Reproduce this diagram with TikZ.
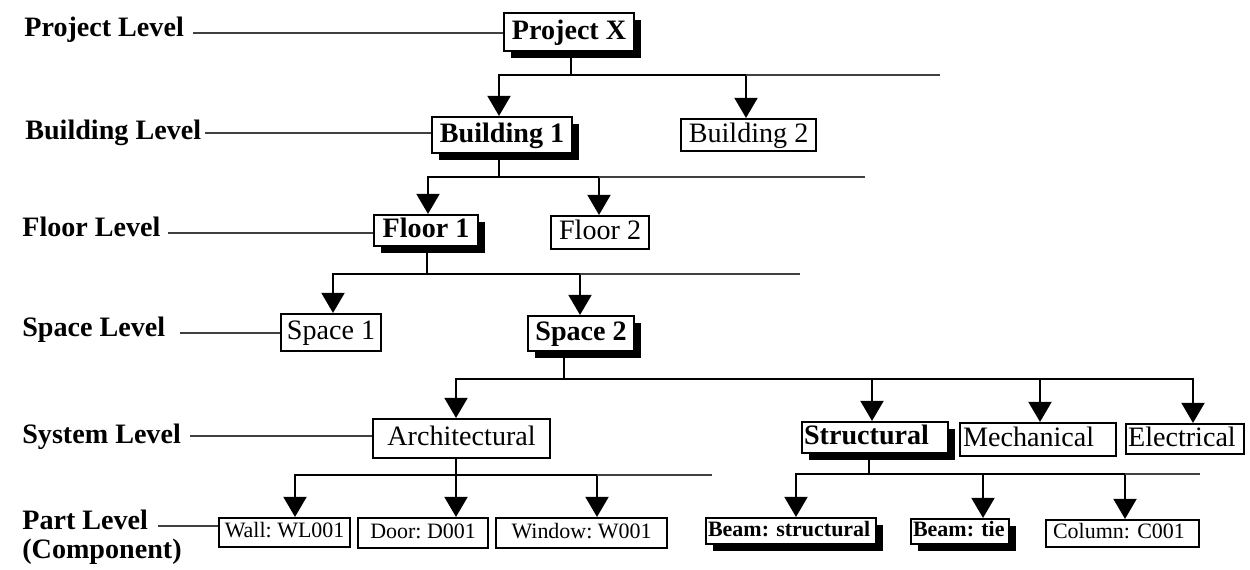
\documentclass[tikz,border=0pt]{standalone}
\usepackage{fontspec}
\setmainfont{Liberation Serif}
\usetikzlibrary{arrows.meta,shadows}

\begin{document}
\frenchspacing
\begin{tikzpicture}[x=0.02cm,y=-0.02cm,
  big/.style={font=\fontsize{16}{18}\selectfont, text height=11pt, text depth=3pt},
  bigb/.style={font=\fontsize{16}{18}\selectfont\bfseries, text height=11pt, text depth=3pt},
  small/.style={font=\fontsize{12.5}{14}\selectfont, text height=8.5pt, text depth=2.5pt},
  smallb/.style={font=\fontsize{12.5}{14}\selectfont\bfseries, text height=8.5pt, text depth=2.5pt},
  box/.style={draw, line width=1.2pt, fill=white, inner sep=0pt, anchor=north west},
  sz/.style 2 args={minimum width=#1*0.02cm, minimum height=#2*0.02cm},
  shade/.style={drop shadow={shadow xshift=0.13cm, shadow yshift=-0.14cm, fill=black, opacity=1}},
  lft/.style 2 args={align=left, inner xsep=#1, text width=#2},
  conn/.style={line width=1.6pt},
  arr/.style={conn, -{Triangle[width=13pt,length=11.5pt]}},
  darr/.style={conn, {Triangle[width=13pt,length=11.5pt]}-{Triangle[width=13pt,length=11.5pt]}},
  guide/.style={line width=0.6pt, black!75},
  lvl/.style={anchor=base west, inner sep=0pt, font=\fontsize{16}{18}\selectfont\bfseries},
]
\fill[white] (0,0) rectangle (1250,570);
\useasboundingbox (0,0) rectangle (1250,570);

% level captions
\node[lvl] (lP) at (24,37)  {Project Level};
\node[lvl] (lB) at (25,140) {Building Level};
\node[lvl] (lF) at (22,237) {Floor Level};
\node[lvl] (lS) at (22,337) {Space Level};
\node[lvl] (lY) at (22,443) {System Level};
\node[lvl] (lW) at (22,529) {Part Level};
\node[lvl] (lC) at (22,558) {(Component)};

% project / building / floor / space boxes
\node[box, bigb, shade, sz={130}{38}] (px) at (503,12)  {Project X};
\node[box, bigb, shade, sz={140}{36}] (b1) at (431,116) {Building 1};
\node[box, big,         sz={135}{32}] (b2) at (680,118) {Building 2};
\node[box, bigb, shade, sz={104}{31}] (f1) at (373,214) {Floor 1};
\node[box, big,         sz={98}{33}]  (f2) at (550,215) {Floor 2};
\node[box, big,         sz={100}{37}] (s1) at (280,313) {Space 1};
\node[box, bigb, shade, sz={106}{35}] (s2) at (527,315) {Space 2};

% system boxes
\node[box, big,         sz={177}{39}] (ar) at (372,418) {Architectural};
\node[box, bigb, shade, sz={146}{31}, lft={0.04cm}{2.84cm}] (st) at (801,421) {Structural};
\node[box, big,         sz={156}{33}, lft={0.06cm}{3.00cm}] (me) at (959,422) {Mechanical};
\node[box, big,         sz={118}{30}, lft={0.04cm}{2.28cm}] (el) at (1125,423) {Electrical};

% part boxes
\node[box, small,         sz={131}{29}] (wa) at (218,517) {Wall: WL001};
\node[box, small,         sz={130}{30}] (do) at (357,517) {Door: D001};
\node[box, small,         sz={171}{30}] (wi) at (495,517) {Window: W001};
\node[box, smallb, shade, sz={170}{26}, lft={0.04cm}{3.32cm}] (bs) at (705,517) {Beam: structural};
\node[box, smallb, shade, sz={98}{25},  lft={0.04cm}{1.88cm}] (bt) at (910,518) {Beam: tie};
\node[box, small,         sz={153}{27}, lft={0.14cm}{2.78cm}] (co) at (1045,519) {Column: C001};

% guide lines from the captions
\coordinate (gP) at (193,33);  \draw[guide] (gP) -- (gP -| px.west);
\coordinate (gB) at (205,133); \draw[guide] (gB) -- (gB -| b1.west);
\coordinate (gF) at (168,233); \draw[guide] (gF) -- (gF -| f1.west);
\coordinate (gS) at (180,333); \draw[guide] (gS) -- (gS -| s1.west);
\coordinate (gY) at (190,436); \draw[guide] (gY) -- (gY -| ar.west);
\coordinate (gW) at (158,526); \draw[guide] (gW) -- (gW -| wa.west);

% project -> buildings
\coordinate (jP)  at (571,75);
\coordinate (jB1) at (499,75);
\coordinate (jB2) at (746,75);
\coordinate (eP)  at (940,75);
\draw[conn] (px.south -| jP) -- (jP);
\draw[darr] (jB1 |- b1.north) -- (jB1) -- (jB2) -- (jB2 |- b2.north);
\draw[guide] (jB2) -- (eP);

% building 1 -> floors
\coordinate (jF)  at (499,177);
\coordinate (jF1) at (428,177);
\coordinate (jF2) at (599,177);
\coordinate (eB)  at (865,177);
\draw[conn] (b1.south -| jF) -- (jF);
\draw[darr] (jF1 |- f1.north) -- (jF1) -- (jF2) -- (jF2 |- f2.north);
\draw[guide] (jF2) -- (eB);

% floor 1 -> spaces
\coordinate (jS)  at (427,274);
\coordinate (jS1) at (333,274);
\coordinate (jS2) at (580,274);
\coordinate (eF)  at (800,274);
\draw[conn] (f1.south -| jS) -- (jS);
\draw[darr] (jS1 |- s1.north) -- (jS1) -- (jS2) -- (jS2 |- s2.north);
\draw[guide] (jS2) -- (eF);

% space 2 -> systems
\coordinate (jY)  at (564,379);
\coordinate (jY1) at (456,379);
\coordinate (jY2) at (872,379);
\coordinate (jY3) at (1040,379);
\coordinate (jY4) at (1193,379);
\draw[conn] (s2.south -| jY) -- (jY);
\draw[darr] (jY1 |- ar.north) -- (jY1) -- (jY4) -- (jY4 |- el.north);
\draw[arr] (jY2) -- (jY2 |- st.north);
\draw[arr] (jY3) -- (jY3 |- me.north);

% architectural -> parts
\coordinate (jA)  at (456,475);
\coordinate (jA1) at (295,475);
\coordinate (jA3) at (597,475);
\coordinate (eA)  at (712,475);
\draw[conn] (ar.south -| jA) -- (jA);
\draw[darr] (jA1 |- wa.north) -- (jA1) -- (jA3) -- (jA3 |- wi.north);
\draw[arr] (jA) -- (jA |- do.north);
\draw[guide] (jA3) -- (eA);

% structural -> parts
\coordinate (jT)  at (869,474);
\coordinate (jT1) at (796,474);
\coordinate (jT2) at (983,474);
\coordinate (jT3) at (1125,474);
\coordinate (eT)  at (1200,474);
\draw[conn] (st.south -| jT) -- (jT);
\draw[darr] (jT1 |- bs.north) -- (jT1) -- (jT3) -- (jT3 |- co.north);
\draw[arr] (jT2) -- (jT2 |- bt.north);
\draw[guide] (jT3) -- (eT);
\end{tikzpicture}
\end{document}
